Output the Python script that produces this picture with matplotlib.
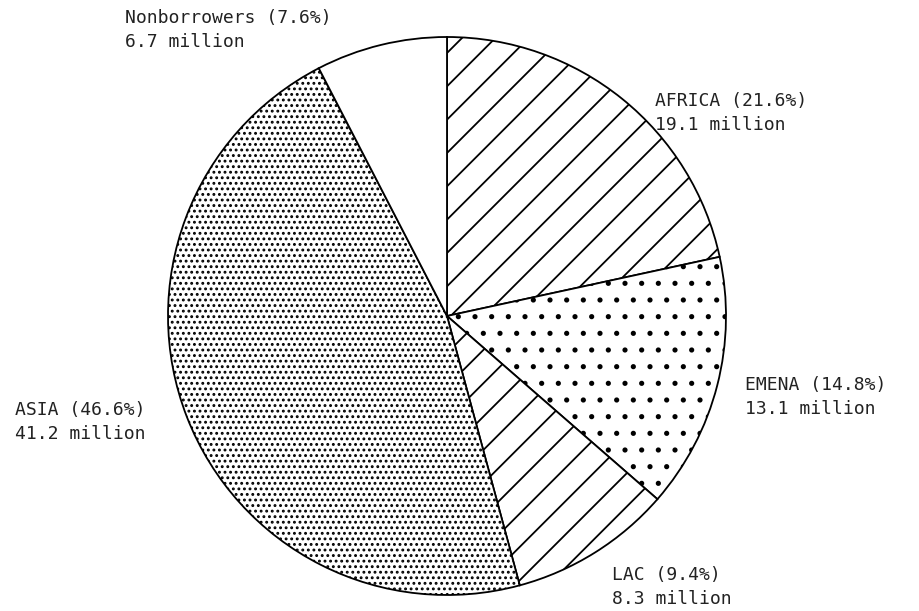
import matplotlib
matplotlib.use("Agg")
import matplotlib.pyplot as plt

regions = ["AFRICA", "EMENA", "LAC", "ASIA", "Nonborrowers"]
shares = [21.6, 14.8, 9.4, 46.6, 7.6]
millions = [19.1, 13.1, 8.3, 41.2, 6.7]
hatches = ["/", ".", "/", "...", ""]

# label anchor positions (pixels, left edge / first-line center)
label_pos = {
    "AFRICA": (655, 101),
    "EMENA": (745, 385),
    "LAC": (612, 575),
    "ASIA": (15, 410),
    "Nonborrowers": (125, 18),
}

W, H = 919, 611
plt.rcParams["hatch.linewidth"] = 1.3
fig = plt.figure(figsize=(W / 100, H / 100), dpi=100)
fig.patch.set_facecolor("white")

cx, cy, r = 447, 316, 279
ax = fig.add_axes([(cx - r) / W, (H - cy - r) / H, 2 * r / W, 2 * r / H])
wedges, _ = ax.pie(shares, startangle=90, counterclock=False, radius=1,
                   colors=["white"] * len(shares),
                   wedgeprops=dict(edgecolor="black", linewidth=1.3))
for w, h in zip(wedges, hatches):
    w.set_hatch(h)
ax.set_xlim(-1, 1)
ax.set_ylim(-1, 1)
ax.set_aspect("equal")
ax.axis("off")

for name, s, m in zip(regions, shares, millions):
    x, y = label_pos[name]
    fig.text(x / W, 1 - y / H, f"{name} ({s}%)", ha="left", va="center",
             fontsize=13, family="DejaVu Sans Mono", color="#222222")
    fig.text(x / W, 1 - (y + 24) / H, f"{m} million", ha="left", va="center",
             fontsize=13, family="DejaVu Sans Mono", color="#222222")

fig.savefig("out.png", dpi=100, facecolor="white")
